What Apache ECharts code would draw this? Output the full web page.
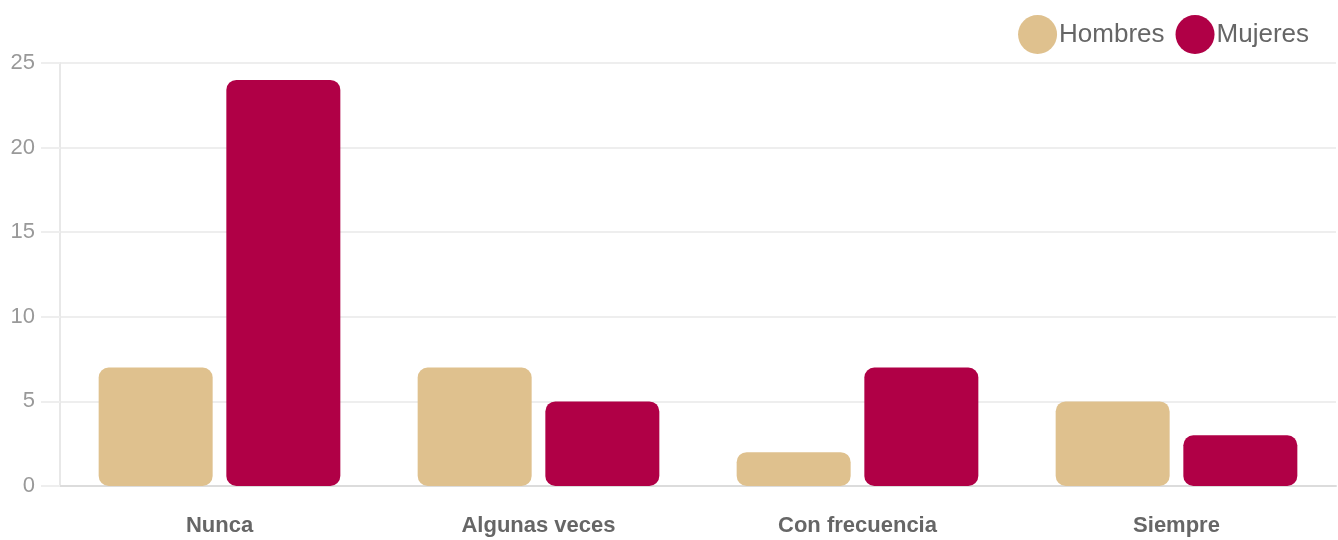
<!DOCTYPE html>
<html>
<head>
<meta charset="utf-8">
<script src="https://cdn.jsdelivr.net/npm/echarts@6/dist/echarts.min.js"></script>
<style>
  html, body { margin: 0; padding: 0; background: #fff; }
  #chart { width: 1338px; height: 540px; }
</style>
</head>
<body>
<div id="chart"></div>
<script>
const categories = ['Nunca', 'Algunas veces', 'Con frecuencia', 'Siempre'];
const hombres = [7, 7, 2, 5];
const mujeres = [24, 5, 7, 3];
const yTicks = { min: 0, max: 25, interval: 5 };

const chart = echarts.init(document.getElementById('chart'), null, { renderer: 'canvas' });

const option = {
    backgroundColor: '#fff',
    textStyle: { fontFamily: 'Helvetica, Arial, "Liberation Sans", sans-serif' },
    legend: {
        top: 10,
        right: 24,
        icon: 'circle',
        itemWidth: 39,
        itemHeight: 39,
        itemGap: 11,
        textStyle: { fontSize: 26, color: '#666', padding: [0, 0, 0, -3] },
        data: ['Hombres', 'Mujeres']
    },
    grid: { left: 60, right: 2, top: 63, bottom: 54 },
    xAxis: {
        type: 'category',
        data: categories,
        axisLine: { lineStyle: { color: '#dcdcdc', width: 2 } },
        axisTick: { show: false },
        axisLabel: { fontSize: 22, fontWeight: 'bold', color: '#666', margin: 29 }
    },
    yAxis: {
        type: 'value',
        min: yTicks.min,
        max: yTicks.max,
        interval: yTicks.interval,
        axisLine: { show: true, lineStyle: { color: '#e8e8e8', width: 2 } },
        axisTick: { show: true, length: 19, lineStyle: { color: '#eeeeee', width: 2 } },
        splitLine: { lineStyle: { color: '#eeeeee', width: 2 } },
        axisLabel: { fontSize: 22, color: '#999', margin: 25 }
    },
    series: [{
        name: 'Hombres',
        type: 'bar',
        data: hombres,
        barWidth: 114,
        barGap: '12%',
        itemStyle: { color: '#dfc18e', borderRadius: 10 }
    }, {
        name: 'Mujeres',
        type: 'bar',
        data: mujeres,
        barWidth: 114,
        itemStyle: { color: '#b00046', borderRadius: 10 }
    }]
};

chart.setOption(option);
</script>
</body>
</html>
